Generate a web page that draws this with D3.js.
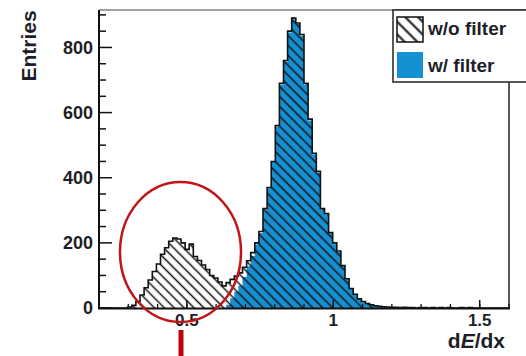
<!DOCTYPE html>
<html><head><meta charset="utf-8">
<script src="https://cdn.jsdelivr.net/npm/d3@7"></script>
<style>
html,body{margin:0;padding:0;background:#fff;}
svg{display:block;}
text{font-family:"Liberation Sans",Arial,sans-serif;font-weight:bold;fill:#1e1e28;}
</style></head>
<body>
<script>
// ---- data ----
const binStart = 0.2;
const binWidth = 0.014;
// "w/o filter" histogram (entries per bin)
const woFilter = [0,0,0,0,0,0,0,3,8,20,40,62,86,112,135,165,185,205,215,212,
  200,180,196,158,146,132,118,100,92,80,68,78,88,98,108,125,145,170,200,235,
  305,370,450,560,690,760,850,890,875,840,690,580,475,420,305,290,232,200,175,130,
  90,60,42,28,20,14,10,7,5,4,3,2,2,1,2,1,1,0,1,1,
  0,1,0,1,0,1,0,0,1,0,1,0,0,0,0,0,0,0,0,0];
// "w/ filter" histogram
const wFilter = [0,0,0,0,0,0,0,0,0,0,0,0,0,0,0,0,0,0,0,0,
  0,0,0,0,0,0,0,0,0,0,0,10,30,50,68,95,128,160,195,230,
  300,368,448,556,686,756,846,886,872,836,686,576,472,416,302,288,230,198,172,128,
  88,58,40,27,19,13,9,6,4,3,2,1,1,1,1,0,1,0,0,1,
  0,0,0,1,0,0,0,0,0,0,0,0,0,0,0,0,0,0,0,0];
const xTicks = [0.5, 1, 1.5];
const xTickLabels = ["0.5", "1", "1.5"];
const yTicks = [0, 200, 400, 600, 800];
const seriesNames = ["w/o filter", "w/ filter"];

// ---- layout ----
const W = 526, H = 356;
const svg = d3.select("body").append("svg").attr("width", W).attr("height", H);
const x = d3.scaleLinear().domain([0.2, 1.6]).range([99, 509]);
const y = d3.scaleLinear().domain([0, 915]).range([308, 10]);
const blue = "#1590d3";

const defs = svg.append("defs");
defs.append("clipPath").attr("id","clip").append("rect")
  .attr("x", 99).attr("y", 10).attr("width", 410).attr("height", 298);
const pat = defs.append("pattern").attr("id","hatch")
  .attr("patternUnits","userSpaceOnUse").attr("width",7).attr("height",7)
  .attr("patternTransform","rotate(45)");
pat.append("line").attr("x1",-1).attr("x2",8).attr("y1",3.5).attr("y2",3.5)
  .attr("stroke","#111").attr("stroke-width",1.5);
const pat2 = defs.append("pattern").attr("id","hatch2")
  .attr("patternUnits","userSpaceOnUse").attr("width",9).attr("height",9)
  .attr("patternTransform","rotate(45)");
pat2.append("line").attr("x1",-1).attr("x2",10).attr("y1",4.5).attr("y2",4.5)
  .attr("stroke","#111").attr("stroke-width",2);

function stepPts(vals){
  const pts = [];
  vals.forEach((v,i)=>{
    const x0 = binStart + i*binWidth, x1 = x0 + binWidth;
    pts.push([x0, v]); pts.push([x1, v]);
  });
  return pts;
}
const area = d3.area().x(d=>x(d[0])).y0(y(0)).y1(d=>y(d[1]));
const line = d3.line().x(d=>x(d[0])).y(d=>y(d[1]));

const g = svg.append("g").attr("clip-path","url(#clip)");
// w/ filter: filled blue
g.append("path").attr("d", area(stepPts(wFilter))).attr("fill", blue);
// w/o filter: hatched, transparent
const woPts = stepPts(woFilter);
g.append("path").attr("d", area(woPts)).attr("fill","url(#hatch)");
g.append("path").attr("d", line(woPts)).attr("fill","none")
  .attr("stroke","#111").attr("stroke-width",1.6);

// ---- frame ----
svg.append("line").attr("x1",99).attr("x2",526).attr("y1",10).attr("y2",10)
  .attr("stroke","#444").attr("stroke-width",1.2);
svg.append("line").attr("x1",509).attr("x2",509).attr("y1",10).attr("y2",309)
  .attr("stroke","#222").attr("stroke-width",1.5);
svg.append("line").attr("x1",99).attr("x2",99).attr("y1",10).attr("y2",309)
  .attr("stroke","#111").attr("stroke-width",2);
svg.append("line").attr("x1",98).attr("x2",510).attr("y1",308.5).attr("y2",308.5)
  .attr("stroke","#111").attr("stroke-width",2);

// y ticks
const yMinor = d3.range(0, 915, 50);
svg.selectAll(".ymin").data(yMinor).join("line")
  .attr("x1",99).attr("x2",d=> d%200===0 ? 112 : 106)
  .attr("y1",d=>y(d)).attr("y2",d=>y(d))
  .attr("stroke","#111").attr("stroke-width",1.5);
svg.selectAll(".ylab").data(yTicks).join("text")
  .attr("x",93).attr("y",d=>y(d)).attr("dy","0.36em")
  .attr("text-anchor","end").attr("font-size",18).text(d=>d);

// x ticks
const xMinor = d3.range(0.2, 1.6001, 0.1);
svg.selectAll(".xmin").data(xMinor).join("line")
  .attr("x1",d=>x(d)).attr("x2",d=>x(d))
  .attr("y1",308).attr("y2",304)
  .attr("stroke","#111").attr("stroke-width",1.3);
svg.selectAll(".xmaj").data(xTicks).join("line")
  .attr("x1",d=>x(d)).attr("x2",d=>x(d))
  .attr("y1",308).attr("y2",300)
  .attr("stroke","#111").attr("stroke-width",1.5);
svg.selectAll(".xlab").data(xTicks).join("text")
  .attr("x",d=>x(d)).attr("y",326)
  .attr("text-anchor","middle").attr("font-size",17).text((d,i)=>xTickLabels[i]);

// axis titles
svg.append("text").attr("transform","translate(36,46) rotate(-90)")
  .attr("text-anchor","middle").attr("font-size",21).text("Entries");
const xt = svg.append("text").attr("x",505).attr("y",348)
  .attr("text-anchor","end").attr("font-size",21);
xt.append("tspan").text("d");
xt.append("tspan").attr("font-style","italic").text("E");
xt.append("tspan").text("/dx");

// legend
svg.append("rect").attr("x",393).attr("y",10).attr("width",150).attr("height",72)
  .attr("fill","#fff").attr("stroke","#222").attr("stroke-width",1.5);
svg.append("rect").attr("x",397).attr("y",17).attr("width",26).attr("height",25)
  .attr("fill","url(#hatch2)").attr("stroke","#111").attr("stroke-width",1.5);
svg.append("rect").attr("x",397).attr("y",52).attr("width",26).attr("height",26)
  .attr("fill",blue);
svg.append("text").attr("x",428).attr("y",35).attr("font-size",19).text(seriesNames[0]);
svg.append("text").attr("x",428).attr("y",72).attr("font-size",19).text(seriesNames[1]);

// red annotation
svg.append("ellipse").attr("cx",180.5).attr("cy",252).attr("rx",60.5).attr("ry",70)
  .attr("fill","none").attr("stroke","#c01416").attr("stroke-width",2.5);
svg.append("line").attr("x1",181).attr("x2",181).attr("y1",330).attr("y2",356)
  .attr("stroke","#c00010").attr("stroke-width",5);
</script>
</body></html>
